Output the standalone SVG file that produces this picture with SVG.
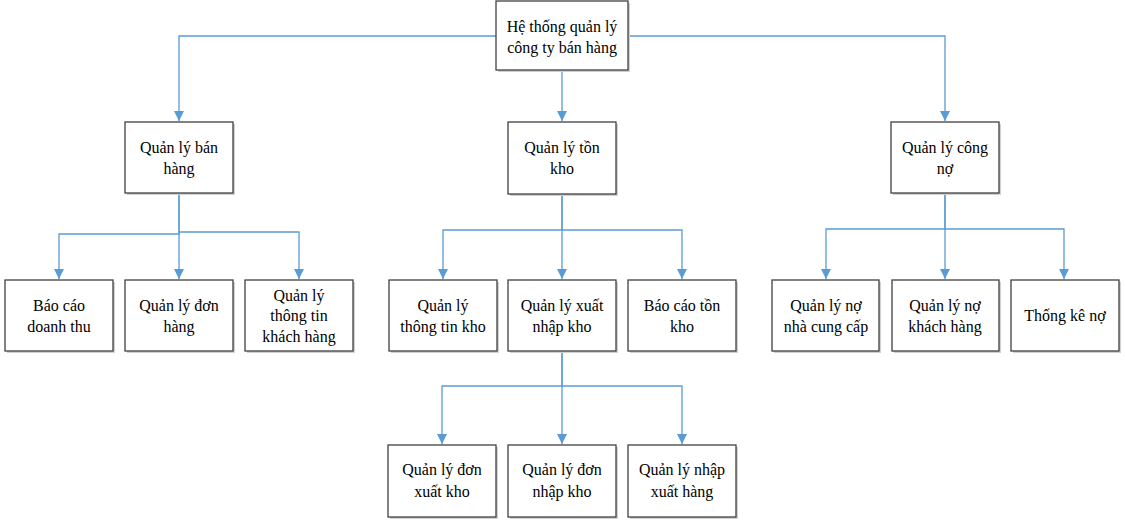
<svg xmlns="http://www.w3.org/2000/svg" width="1125" height="525" viewBox="0 0 1125 525">
<defs>
<style>
.box{fill:#fff;stroke:#404040;stroke-width:1.3}
.sh{fill:#d0d0d0}
.c{fill:none;stroke:#5b9bd5;stroke-width:1.3}
</style>
</defs>
<rect width="1125" height="525" fill="#fff"/>
<g id="connectors">
<path class="c" d="M496,36 H179 V121"/>
<path class="c" d="M562,70 V121"/>
<path class="c" d="M628,36 H945 V121"/>
<path class="c" d="M179,193 V234 H59 V279"/>
<path class="c" d="M179,193 V279"/>
<path class="c" d="M179,232 H299 V279"/>
<path class="c" d="M562,194 V230 H443 V279"/>
<path class="c" d="M562,194 V279"/>
<path class="c" d="M562,230 H682 V279"/>
<path class="c" d="M562,351 V386 H442 V444"/>
<path class="c" d="M562,351 V444"/>
<path class="c" d="M562,386 H682 V444"/>
<path class="c" d="M945,193 V229 H826 V279"/>
<path class="c" d="M945,193 V279"/>
<path class="c" d="M945,229 H1064 V279"/>
</g>
<g id="arrowheads" fill="#5b9bd5">
<path d="M174,111 H184 L179,121 Z"/>
<path d="M557,111 H567 L562,121 Z"/>
<path d="M940,111 H950 L945,121 Z"/>
<path d="M54,269 H64 L59,279 Z"/>
<path d="M174,269 H184 L179,279 Z"/>
<path d="M294,269 H304 L299,279 Z"/>
<path d="M438,269 H448 L443,279 Z"/>
<path d="M557,269 H567 L562,279 Z"/>
<path d="M677,269 H687 L682,279 Z"/>
<path d="M437,434 H447 L442,444 Z"/>
<path d="M557,434 H567 L562,444 Z"/>
<path d="M677,434 H687 L682,444 Z"/>
<path d="M821,269 H831 L826,279 Z"/>
<path d="M940,269 H950 L945,279 Z"/>
<path d="M1059,269 H1069 L1064,279 Z"/>
</g>
<g id="nodes" font-family="Liberation Serif, Tinos, Times New Roman, Noto Serif, DejaVu Serif, serif" font-size="16" text-anchor="middle" fill="#000">
<g id="root">
<rect class="sh" x="498" y="3" width="132" height="69"/>
<rect class="box" x="496" y="1" width="132" height="69"/>
<text x="562" y="32">Hệ thống quản lý</text>
<text x="562" y="53">công ty bán hàng</text>
</g>
<g id="ql-ban-hang">
<rect class="sh" x="127" y="124" width="108" height="71"/>
<rect class="box" x="125" y="122" width="108" height="71"/>
<text x="179" y="153">Quản lý bán</text>
<text x="179" y="174">hàng</text>
</g>
<g id="ql-ton-kho">
<rect class="sh" x="510" y="124" width="108" height="72"/>
<rect class="box" x="508" y="122" width="108" height="72"/>
<text x="562" y="153">Quản lý tồn</text>
<text x="562" y="174">kho</text>
</g>
<g id="ql-cong-no">
<rect class="sh" x="893" y="124" width="108" height="71"/>
<rect class="box" x="891" y="122" width="108" height="71"/>
<text x="945" y="153">Quản lý công</text>
<text x="945" y="174">nợ</text>
</g>
<g id="bao-cao-doanh-thu">
<rect class="sh" x="7" y="282" width="108" height="71"/>
<rect class="box" x="5" y="280" width="108" height="71"/>
<text x="59" y="311">Báo cáo</text>
<text x="59" y="332">doanh thu</text>
</g>
<g id="ql-don-hang">
<rect class="sh" x="127" y="282" width="108" height="71"/>
<rect class="box" x="125" y="280" width="108" height="71"/>
<text x="179" y="311">Quản lý đơn</text>
<text x="179" y="332">hàng</text>
</g>
<g id="ql-thong-tin-kh">
<rect class="sh" x="247" y="282" width="108" height="71"/>
<rect class="box" x="245" y="280" width="108" height="71"/>
<text x="299" y="301">Quản lý</text>
<text x="299" y="321">thông tin</text>
<text x="299" y="342">khách hàng</text>
</g>
<g id="ql-thong-tin-kho">
<rect class="sh" x="391" y="282" width="108" height="71"/>
<rect class="box" x="389" y="280" width="108" height="71"/>
<text x="443" y="311">Quản lý</text>
<text x="443" y="332">thông tin kho</text>
</g>
<g id="ql-xuat-nhap-kho">
<rect class="sh" x="510" y="282" width="108" height="71"/>
<rect class="box" x="508" y="280" width="108" height="71"/>
<text x="562" y="311">Quản lý xuất</text>
<text x="562" y="332">nhập kho</text>
</g>
<g id="bao-cao-ton-kho">
<rect class="sh" x="630" y="282" width="108" height="71"/>
<rect class="box" x="628" y="280" width="108" height="71"/>
<text x="682" y="311">Báo cáo tồn</text>
<text x="682" y="332">kho</text>
</g>
<g id="ql-no-ncc">
<rect class="sh" x="774" y="282" width="107" height="71"/>
<rect class="box" x="772" y="280" width="107" height="71"/>
<text x="826" y="311">Quản lý nợ</text>
<text x="826" y="332">nhà cung cấp</text>
</g>
<g id="ql-no-kh">
<rect class="sh" x="894" y="282" width="107" height="71"/>
<rect class="box" x="892" y="280" width="107" height="71"/>
<text x="945" y="311">Quản lý nợ</text>
<text x="945" y="332">khách hàng</text>
</g>
<g id="thong-ke-no">
<rect class="sh" x="1013" y="282" width="108" height="71"/>
<rect class="box" x="1011" y="280" width="108" height="71"/>
<text x="1065" y="321">Thống kê nợ</text>
</g>
<g id="ql-don-xuat-kho">
<rect class="sh" x="390" y="447" width="108" height="72"/>
<rect class="box" x="388" y="445" width="108" height="72"/>
<text x="442" y="475">Quản lý đơn</text>
<text x="442" y="497">xuất kho</text>
</g>
<g id="ql-don-nhap-kho">
<rect class="sh" x="510" y="447" width="108" height="72"/>
<rect class="box" x="508" y="445" width="108" height="72"/>
<text x="562" y="475">Quản lý đơn</text>
<text x="562" y="497">nhập kho</text>
</g>
<g id="ql-nhap-xuat-hang">
<rect class="sh" x="630" y="447" width="108" height="72"/>
<rect class="box" x="628" y="445" width="108" height="72"/>
<text x="682" y="475">Quản lý nhập</text>
<text x="682" y="497">xuất hàng</text>
</g>
</g>
</svg>
